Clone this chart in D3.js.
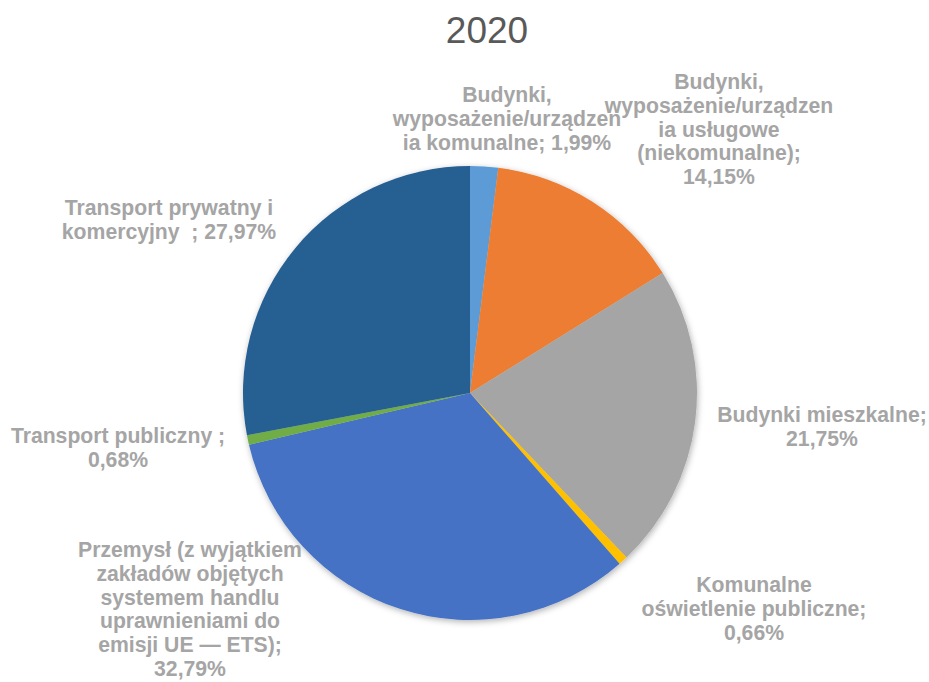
<!DOCTYPE html>
<html>
<head>
<meta charset="utf-8">
<script src="https://cdn.jsdelivr.net/npm/d3@7"></script>
<style>
  html, body { margin: 0; padding: 0; background: #ffffff; }
  svg { display: block; }
  text { font-family: "Liberation Sans", Arial, sans-serif; }
</style>
</head>
<body>
<svg id="chart" width="929" height="682"></svg>
<script>
// Emission shares by sector, 2020 (percent)
const title = "2020";
const categories = [
  "Budynki, wyposażenie/urządzenia komunalne",
  "Budynki, wyposażenie/urządzenia usługowe (niekomunalne)",
  "Budynki mieszkalne",
  "Komunalne oświetlenie publiczne",
  "Przemysł (z wyjątkiem zakładów objętych systemem handlu uprawnieniami do emisji UE — ETS)",
  "Transport publiczny",
  "Transport prywatny i komercyjny"
];
const values = [1.99, 14.15, 21.75, 0.66, 32.79, 0.68, 27.97];
const colors = ["#5B9BD5", "#ED7D31", "#A5A5A5", "#FFC000", "#4472C4", "#70AD47", "#255E91"];

// Wrapped label lines; {v} is replaced by the formatted value
const labelLines = [
  ["Budynki,", "wyposażenie/urządzen", "ia komunalne; {v}"],
  ["Budynki,", "wyposażenie/urządzen", "ia usługowe", "(niekomunalne);", "{v}"],
  ["Budynki mieszkalne;", "{v}"],
  ["Komunalne", "oświetlenie publiczne;", "{v}"],
  ["Przemysł (z wyjątkiem", "zakładów objętych", "systemem handlu", "uprawnieniami do", "emisji UE — ETS);", "{v}"],
  ["Transport publiczny ;", "{v}"],
  ["Transport prywatny i", "komercyjny  ; {v}"]
];

// Label anchors (centre x, first baseline y)
const labelAnchors = [
  [507, 102], [719, 89], [822, 422], [754, 592], [190, 557], [118, 443], [169, 215]
];

const width = 929, height = 682;
const cx = 470, cy = 393, radius = 227;
const lineHeight = 23.8;

const svg = d3.select("#chart");

const defs = svg.append("defs");
const shadow = defs.append("filter")
  .attr("id", "pieShadow")
  .attr("x", "-10%").attr("y", "-10%")
  .attr("width", "120%").attr("height", "120%");
shadow.append("feDropShadow")
  .attr("dx", 1).attr("dy", 2)
  .attr("stdDeviation", 3)
  .attr("flood-color", "#000")
  .attr("flood-opacity", 0.3);

svg.append("text")
  .attr("x", 487)
  .attr("y", 43)
  .attr("text-anchor", "middle")
  .attr("font-size", 37)
  .attr("fill", "#595959")
  .text(title);

const pie = d3.pie().sort(null).value(d => d);
const arcs = pie(values);
const arc = d3.arc().innerRadius(0).outerRadius(radius);

const g = svg.append("g")
  .attr("transform", `translate(${cx},${cy})`)
  .attr("filter", "url(#pieShadow)");

g.selectAll("path")
  .data(arcs)
  .join("path")
  .attr("d", arc)
  .attr("fill", (d, i) => colors[i]);

const fmt = v => d3.format(".2f")(v).replace(".", ",") + "%";

const labels = svg.append("g");
labelLines.forEach((lines, i) => {
  const [x, y] = labelAnchors[i];
  const t = labels.append("text")
    .attr("text-anchor", "middle")
    .attr("font-size", 21.2)
    .attr("font-weight", "bold")
    .attr("fill", "#A5A5A5")
    .style("white-space", "pre");
  lines.forEach((line, k) => {
    t.append("tspan")
      .attr("x", x)
      .attr("y", y + k * lineHeight)
      .text(line.replace("{v}", fmt(values[i])));
  });
});
</script>
</body>
</html>
